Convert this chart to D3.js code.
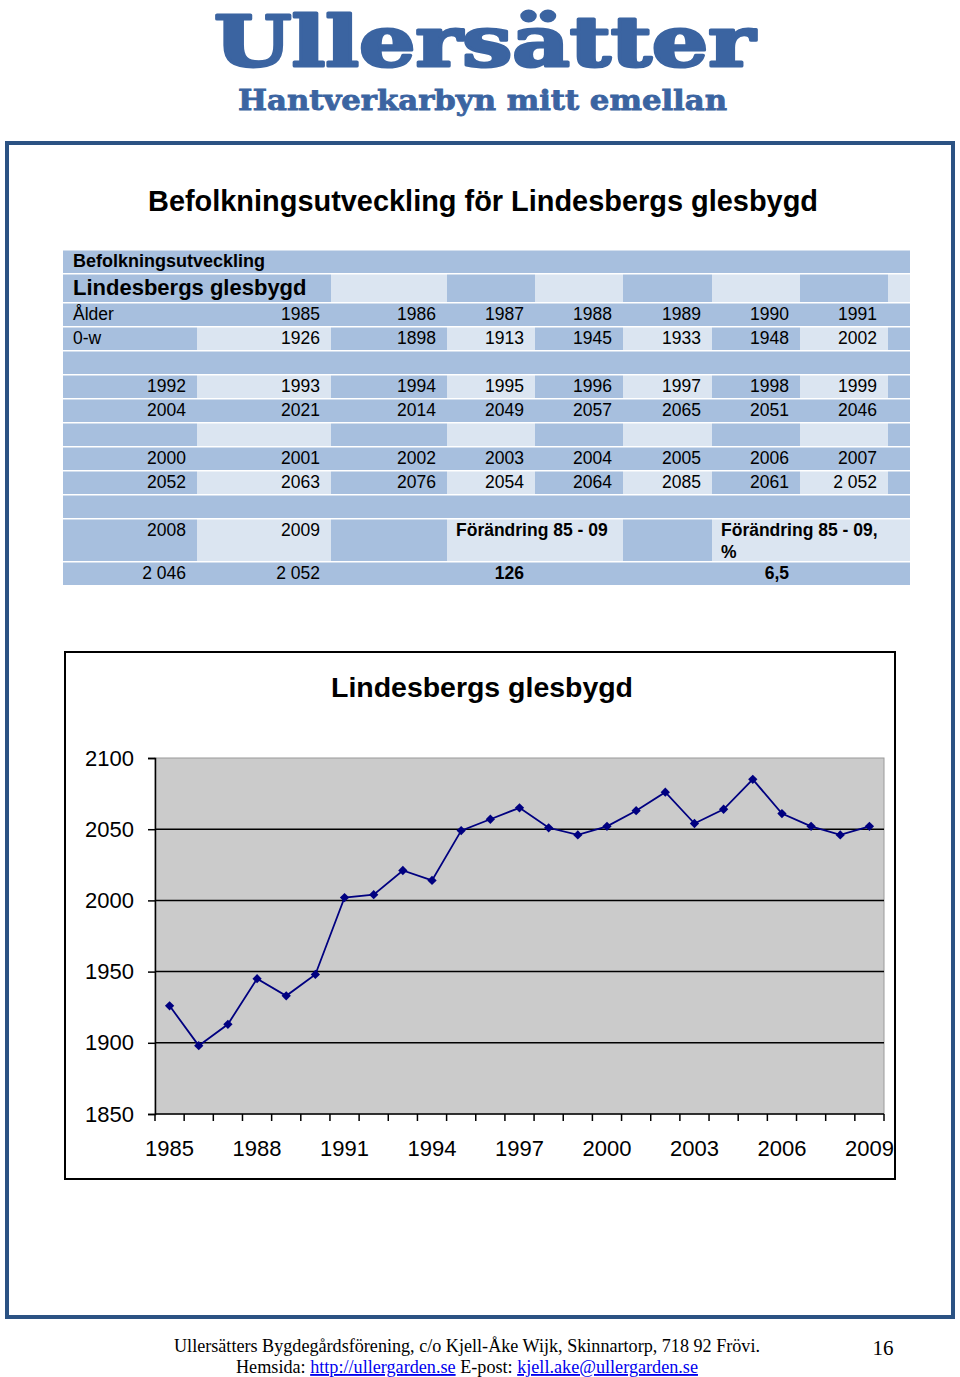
<!DOCTYPE html>
<html>
<head>
<meta charset="utf-8">
<script src="https://cdn.jsdelivr.net/npm/d3@7"></script>
<style>
  body { margin: 0; background: #fff; }
  svg { display: block; }
</style>
</head>
<body>
<script>
// data: befolkning 0-w, Lindesbergs glesbygd
var years = [1985, 1986, 1987, 1988, 1989, 1990, 1991, 1992, 1993, 1994, 1995, 1996,
  1997, 1998, 1999, 2000, 2001, 2002, 2003, 2004, 2005, 2006, 2007, 2008, 2009];
var population = [1926, 1898, 1913, 1945, 1933, 1948, 2002, 2004, 2021, 2014, 2049, 2057,
  2065, 2051, 2046, 2052, 2063, 2076, 2054, 2064, 2085, 2061, 2052, 2046, 2052];
var changeAbs = "126";
var changePct = "6,5";
var yTicks = [1850, 1900, 1950, 2000, 2050, 2100];
var xLabelYears = [1985, 1988, 1991, 1994, 1997, 2000, 2003, 2006, 2009];

var W = 960, H = 1377;
var dark = "#a7bfde", light = "#dbe5f1";

var svg = d3.select("body").append("svg")
  .attr("width", W)
  .attr("height", H);

// sidhuvud
svg.append("text")
  .attr("x", 214).attr("y", 66)
  .attr("textLength", 541).attr("lengthAdjust", "spacingAndGlyphs")
  .attr("font-family", "DejaVu Serif").attr("font-weight", "bold")
  .attr("font-size", 70).attr("fill", "#3b64a1")
  .attr("stroke", "#3b64a1").attr("stroke-width", 3).attr("stroke-linejoin", "round")
  .text("Ullersätter");

svg.append("text")
  .attr("x", 238).attr("y", 110)
  .attr("textLength", 489).attr("lengthAdjust", "spacingAndGlyphs")
  .attr("font-family", "DejaVu Serif").attr("font-weight", "bold")
  .attr("font-size", 27).attr("fill", "#3b64a1")
  .attr("stroke", "#3b64a1").attr("stroke-width", 0.8)
  .text("Hantverkarbyn mitt emellan");

// blå ram
svg.append("rect")
  .attr("x", 7).attr("y", 143)
  .attr("width", 946).attr("height", 1174)
  .attr("fill", "none").attr("stroke", "#2b5283").attr("stroke-width", 4);

svg.append("text")
  .attr("x", 483).attr("y", 211)
  .attr("text-anchor", "middle")
  .attr("textLength", 670).attr("lengthAdjust", "spacingAndGlyphs")
  .attr("font-family", "Liberation Sans, Arial").attr("font-weight", "bold")
  .attr("font-size", 30).attr("fill", "#000")
  .text("Befolkningsutveckling för Lindesbergs glesbygd");

// tabell
var colX = [63, 197, 331, 447, 535, 623, 712, 800, 888, 910];
var rowY = [250, 274, 303, 327, 351, 375, 399, 423, 447, 471, 495, 519, 562, 586];

var tbl = svg.append("g")
  .attr("font-family", "Liberation Sans, Arial")
  .attr("font-size", 17.5)
  .attr("fill", "#000");

function cellFill(r, c) {
  if (r % 2 === 0) return dark;            // hela raden mörk
  if (r === 1) return (c <= 1 || c % 2 === 1) ? dark : light;
  return c % 2 === 0 ? dark : light;
}

function cell(r, c0, c1, fill) {
  tbl.append("rect")
    .attr("x", colX[c0]).attr("y", rowY[r] + 0.5)
    .attr("width", colX[c1 + 1] - colX[c0])
    .attr("height", rowY[r + 1] - rowY[r] - 1.5)
    .attr("fill", fill);
}

for (var r = 0; r < rowY.length - 1; r++) {
  if (r === 0) { cell(0, 0, 8, dark); continue; }
  if (r === 11) {
    cell(r, 0, 0, dark); cell(r, 1, 1, light); cell(r, 2, 2, dark);
    cell(r, 3, 4, light); cell(r, 5, 5, dark); cell(r, 6, 8, light);
    continue;
  }
  for (var c = 0; c < 9; c++) cell(r, c, c, cellFill(r, c));
}

function txt(x, y, s, anchor, bold, size) {
  tbl.append("text")
    .attr("x", x).attr("y", y)
    .attr("text-anchor", anchor || "end")
    .attr("font-weight", bold ? "bold" : null)
    .attr("font-size", size || null)
    .text(s);
}

txt(73, 267, "Befolkningsutveckling", "start", true, 18);
txt(73, 295, "Lindesbergs glesbygd", "start", true, 22);
txt(73, 320, "Ålder", "start");
txt(73, 344, "0-w", "start");

// år och värden, fyra block
var blocks = [
  { start: 0, firstCol: 1, n: 7, yRow: 320, vRow: 344 },
  { start: 7, firstCol: 0, n: 8, yRow: 392, vRow: 416 },
  { start: 15, firstCol: 0, n: 8, yRow: 464, vRow: 488 },
  { start: 23, firstCol: 0, n: 2, yRow: 536, vRow: 579 }
];
blocks.forEach(function (b) {
  for (var i = 0; i < b.n; i++) {
    var k = b.start + i, c = b.firstCol + i;
    var x = colX[c + 1] - 11;
    txt(x, b.yRow, String(years[k]));
    var v = String(population[k]);
    if (k >= 22) v = v.slice(0, 1) + " " + v.slice(1);
    txt(x, b.vRow, v);
  }
});

txt(456, 536, "Förändring 85 - 09", "start", true);
txt(721, 536, "Förändring 85 - 09,", "start", true);
txt(721, 558, "%", "start", true);
txt(524, 579, changeAbs, "end", true);
txt(789, 579, changePct, "end", true);

// diagram
svg.append("rect")
  .attr("x", 65).attr("y", 652)
  .attr("width", 830).attr("height", 527)
  .attr("fill", "#fff").attr("stroke", "#000").attr("stroke-width", 2);

svg.append("text")
  .attr("x", 482).attr("y", 697)
  .attr("text-anchor", "middle")
  .attr("textLength", 302).attr("lengthAdjust", "spacingAndGlyphs")
  .attr("font-family", "Liberation Sans, Arial").attr("font-weight", "bold")
  .attr("font-size", 28)
  .text("Lindesbergs glesbygd");

var px0 = 155, px1 = 884, py0 = 758, py1 = 1114;

var x = d3.scaleBand()
  .domain(years)
  .range([px0, px1]);

var y = d3.scaleLinear()
  .domain([1850, 2100])
  .range([py1, py0]);

var plot = svg.append("g");

plot.append("rect")
  .attr("x", px0).attr("y", py0)
  .attr("width", px1 - px0).attr("height", py1 - py0)
  .attr("fill", "#cbcbcb").attr("stroke", "#9a9a9a").attr("stroke-width", 1);

// rutnät
plot.append("g")
  .selectAll("line")
  .data(yTicks.filter(function (d) { return d > 1850 && d < 2100; }))
  .enter().append("line")
  .attr("x1", px0).attr("x2", px1)
  .attr("y1", function (d) { return y(d); })
  .attr("y2", function (d) { return y(d); })
  .attr("stroke", "#000").attr("stroke-width", 1.5);

// y-axel
var yAxis = plot.append("g")
  .attr("transform", "translate(" + px0 + ",0)")
  .call(d3.axisLeft(y).tickValues(yTicks).tickSize(7).tickPadding(14).tickFormat(d3.format("d")));
yAxis.select(".domain").attr("stroke", "#000").attr("stroke-width", 1.5);
yAxis.selectAll(".tick line").attr("stroke", "#000").attr("stroke-width", 1.5);
yAxis.selectAll("text")
  .attr("font-family", "Liberation Sans, Arial").attr("font-size", 22).attr("fill", "#000");

// x-axel med streck mellan kategorierna
var xAxis = plot.append("g")
  .attr("transform", "translate(0," + py1 + ")");
xAxis.append("line")
  .attr("x1", px0).attr("x2", px1)
  .attr("stroke", "#000").attr("stroke-width", 1.5);
xAxis.selectAll("line.tk")
  .data(years.concat([null]))
  .enter().append("line")
  .attr("class", "tk")
  .attr("x1", function (d, i) { return px0 + i * x.step(); })
  .attr("x2", function (d, i) { return px0 + i * x.step(); })
  .attr("y1", 0).attr("y2", 7)
  .attr("stroke", "#000").attr("stroke-width", 1.5);
xAxis.selectAll("text")
  .data(xLabelYears)
  .enter().append("text")
  .attr("x", function (d) { return x(d) + x.bandwidth() / 2; })
  .attr("y", 42)
  .attr("text-anchor", "middle")
  .attr("font-family", "Liberation Sans, Arial").attr("font-size", 22)
  .text(function (d) { return d; });

// linje och markörer
var pts = years.map(function (d, i) { return [d, population[i]]; });
var line = d3.line()
  .x(function (d) { return x(d[0]) + x.bandwidth() / 2; })
  .y(function (d) { return y(d[1]); });

plot.append("path")
  .datum(pts)
  .attr("d", line)
  .attr("fill", "none")
  .attr("stroke", "#000080").attr("stroke-width", 1.8);

plot.append("g")
  .selectAll("path")
  .data(pts)
  .enter().append("path")
  .attr("d", d3.symbol().type(d3.symbolDiamond2).size(55))
  .attr("transform", function (d) {
    return "translate(" + (x(d[0]) + x.bandwidth() / 2) + "," + y(d[1]) + ")";
  })
  .attr("fill", "#000080");

// sidfot
var foot = svg.append("g")
  .attr("font-family", "Liberation Serif, Times New Roman")
  .attr("font-size", 18.5).attr("fill", "#000");

foot.append("text")
  .attr("x", 174).attr("y", 1352)
  .attr("textLength", 586).attr("lengthAdjust", "spacingAndGlyphs")
  .text("Ullersätters Bygdegårdsförening, c/o Kjell-Åke Wijk, Skinnartorp, 718 92 Frövi.");

var l2 = foot.append("text")
  .attr("x", 236).attr("y", 1373)
  .attr("textLength", 462).attr("lengthAdjust", "spacingAndGlyphs");
l2.append("tspan").text("Hemsida: ");
l2.append("tspan").attr("fill", "#0000ee").attr("text-decoration", "underline").text("http://ullergarden.se");
l2.append("tspan").text(" E-post: ");
l2.append("tspan").attr("fill", "#0000ee").attr("text-decoration", "underline").text("kjell.ake@ullergarden.se");

foot.append("text")
  .attr("x", 883).attr("y", 1355)
  .attr("text-anchor", "middle")
  .attr("font-size", 21)
  .text("16");
</script>
</body>
</html>
